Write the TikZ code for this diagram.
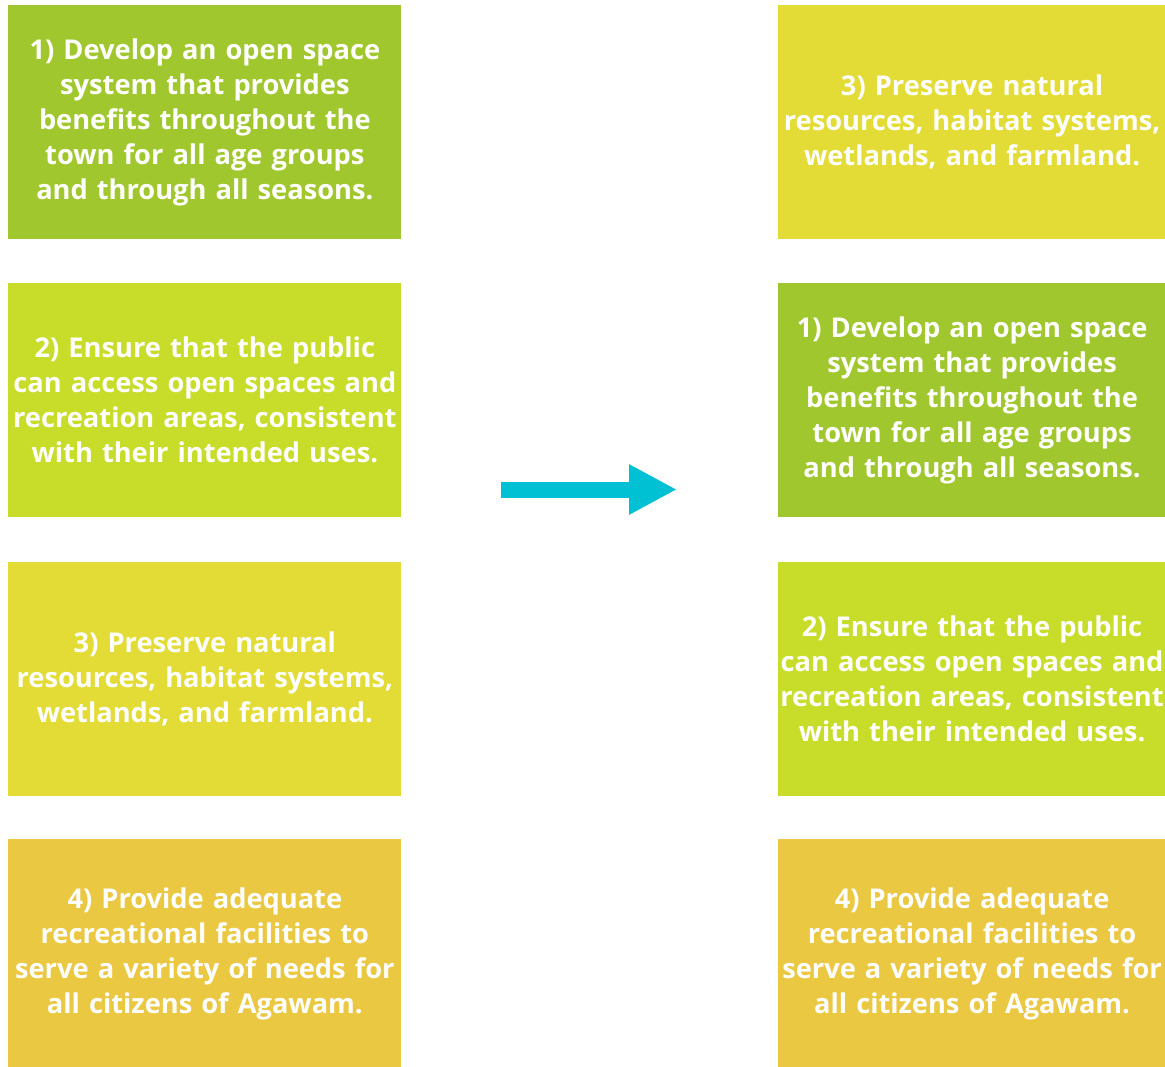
\documentclass[tikz,border=0pt]{standalone}
\usepackage{fontspec}
\setmainfont{Open Sans}
\usepackage{xcolor}
\usepackage{tikz}
\usetikzlibrary{positioning, arrows.meta}
\definecolor{goalGreen}{RGB}{160,200,46}
\definecolor{goalLime}{RGB}{200,221,42}
\definecolor{goalYellow}{RGB}{227,220,55}
\definecolor{goalGold}{RGB}{235,200,65}
\definecolor{arrowCyan}{RGB}{0,192,212}
\tikzset{
    goalbox/.style={
        rectangle,
        draw=none,
        text=white,
        inner sep=0pt,
        minimum height=4.68cm,
        text width=7.7cm,
        align=center,
        font=\fontsize{15.5}{19.9}\selectfont\bfseries
    },
    leftbox/.style={goalbox, minimum width=7.86cm},
    rightbox/.style={goalbox, minimum width=7.76cm},
    bigarrow/.style={
        -{Triangle[length=0.96cm, width=0.94cm]},
        line width=0.32cm,
        draw=arrowCyan,
        fill=arrowCyan
    }
}

\begin{document}
\begin{tikzpicture}
    \useasboundingbox (0,0) rectangle (23.3,-21.34);
    % left column: original order
    \node[leftbox, fill=goalGreen, anchor=north west] (L1) at (0.16,-0.1)
        {1) Develop an open space\\system that provides\\benefits throughout the\\town for all age groups\\and through all seasons.};
    \node[leftbox, fill=goalLime, below=0.86cm of L1] (L2)
        {2) Ensure that the public\\can access open spaces and\\recreation areas, consistent\\with their intended uses.};
    \node[leftbox, fill=goalYellow, below=0.88cm of L2] (L3)
        {3) Preserve natural\\resources, habitat systems,\\wetlands, and farmland.};
    \node[leftbox, fill=goalGold, below=0.86cm of L3, minimum height=4.58cm] (L4)
        {4) Provide adequate\\recreational facilities to\\serve a variety of needs for\\all citizens of Agawam.};
    % right column: new order
    \node[rightbox, fill=goalYellow, right=7.52cm of L1] (R1)
        {3) Preserve natural\\resources, habitat systems,\\wetlands, and farmland.};
    \node[rightbox, fill=goalGreen, right=7.52cm of L2] (R2)
        {1) Develop an open space\\system that provides\\benefits throughout the\\town for all age groups\\and through all seasons.};
    \node[rightbox, fill=goalLime, right=7.52cm of L3] (R3)
        {2) Ensure that the public\\can access open spaces and\\recreation areas, consistent\\with their intended uses.};
    \node[rightbox, fill=goalGold, right=7.52cm of L4, minimum height=4.58cm] (R4)
        {4) Provide adequate\\recreational facilities to\\serve a variety of needs for\\all citizens of Agawam.};
    % reorder arrow
    \coordinate (arrowStart) at (10.02,-9.79);
    \coordinate (arrowEnd) at (13.54,-9.79);
    \draw[bigarrow] (arrowStart) -- (arrowEnd);
\end{tikzpicture}
\end{document}
